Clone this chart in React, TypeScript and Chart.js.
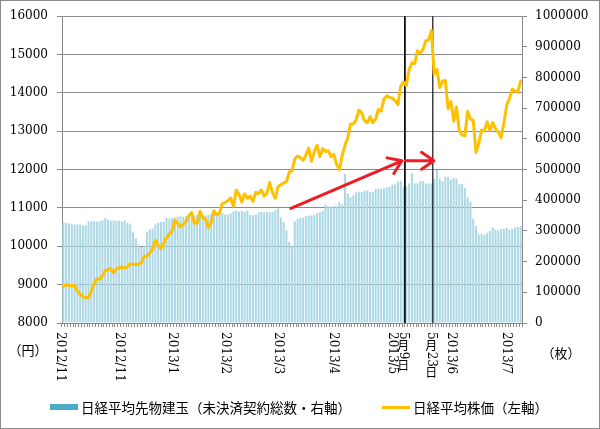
import React, { useEffect, useRef } from 'react';
import { Chart, registerables } from 'chart.js';

Chart.register(...registerables);

// Trading days per month (category axis)
const months = ['2012/11', '2012/12', '2013/1', '2013/2', '2013/3', '2013/4', '2013/5', '2013/6', '2013/7'];
const nov2012 = [1, 2, 5, 6, 7, 8, 9, 12, 13, 14, 15, 16, 19, 20, 21, 22, 26, 27, 28, 29, 30];
const dec2012 = [3, 4, 5, 6, 7, 10, 11, 12, 13, 14, 17, 18, 19, 20, 21, 25, 26, 27, 28];
const jan2013 = [4, 7, 8, 9, 10, 11, 15, 16, 17, 18, 21, 22, 23, 24, 25, 28, 29, 30, 31];
const feb2013 = [1, 4, 5, 6, 7, 8, 12, 13, 14, 15, 18, 19, 20, 21, 22, 25, 26, 27, 28];
const mar2013 = [1, 4, 5, 6, 7, 8, 11, 12, 13, 14, 15, 18, 19, 21, 22, 25, 26, 27, 28, 29];
const apr2013 = [1, 2, 3, 4, 5, 8, 9, 10, 11, 12, 15, 16, 17, 18, 19, 22, 23, 24, 25, 26, 30];
const may2013 = [1, 2, 7, 8, 9, 10, 13, 14, 15, 16, 17, 20, 21, 22, 23, 24, 27, 28, 29, 30, 31];
const jun2013 = [3, 4, 5, 6, 7, 10, 11, 12, 13, 14, 17, 18, 19, 20, 21, 24, 25, 26, 27, 28];
const jul2013 = [1, 2, 3, 4, 5];
const monthDays = [nov2012, dec2012, jan2013, feb2013, mar2013, apr2013, may2013, jun2013, jul2013];
const categories: string[] = months.flatMap((m, i) => monthDays[i].map((d) => `${m}/${d}`));

// 日経平均株価（左軸, 円）
const nikkei = [
  8946, 9007, 8975, 8975, 8972, 8837, 8757, 8676, 8661, 8665, 8830, 9024, 9153, 9142, 9222, 9366, 9388, 9423, 9308, 9400, 9446,
  9458, 9432, 9468, 9545, 9527, 9533, 9525, 9581, 9742, 9737, 9828, 9923, 10160, 10039, 9940, 10080, 10230, 10322, 10395,
  10688, 10599, 10508, 10578, 10652, 10801, 10879, 10600, 10609, 10913, 10747, 10709, 10487, 10620, 10926, 10824, 10866, 11113, 11138,
  11191, 11260, 11046, 11463, 11357, 11153, 11369, 11251, 11307, 11173, 11407, 11372, 11468, 11309, 11385, 11662, 11399, 11254, 11559,
  11606, 11652, 11683, 11932, 11968, 12283, 12349, 12315, 12239, 12381, 12560, 12220, 12468, 12635, 12338, 12546, 12471, 12494, 12336, 12397,
  12135, 12003, 12362, 12634, 12833, 13192, 13192, 13288, 13549, 13485, 13275, 13221, 13382, 13220, 13316, 13568, 13529, 13843, 13926, 13884, 13860,
  13799, 13694, 14180, 14285, 14191, 14607, 14782, 14758, 15096, 15037, 15138, 15360, 15381, 15627, 14483, 14612, 14143, 14311, 14326, 13589, 13775,
  13262, 13633, 13015, 12904, 12877, 13515, 13318, 13289, 12445, 12687, 13034, 13008, 13245, 13015, 13230, 13063, 12970, 12835, 13214, 13677,
  13852, 14099, 14055, 14018, 14309,
];

// 日経平均先物建玉（右軸, 枚）
const openInterest = [
  327000, 327000, 324000, 322000, 321000, 322000, 321000, 319000, 319000, 331000, 332000, 332000, 331000, 332000, 335000, 342000, 337000, 334000, 334000, 333000, 333000,
  331000, 334000, 326000, 321000, 296000, 276000, 255000, 248000, 250000, 296000, 305000, 308000, 321000, 327000, 329000, 331000, 343000, 341000, 343000,
  344000, 346000, 348000, 346000, 348000, 350000, 349000, 350000, 352000, 350000, 348000, 350000, 352000, 356000, 358000, 357000, 356000, 359000, 354000,
  353000, 357000, 364000, 366000, 363000, 365000, 362000, 366000, 352000, 351000, 353000, 360000, 362000, 361000, 363000, 360000, 362000, 368000, 373000,
  345000, 329000, 302000, 264000, 250000, 332000, 340000, 343000, 343000, 348000, 350000, 350000, 352000, 358000, 362000, 366000, 386000, 380000, 379000, 381000,
  380000, 394000, 386000, 486000, 421000, 410000, 416000, 426000, 428000, 427000, 432000, 432000, 426000, 428000, 437000, 437000, 437000, 438000, 443000, 444000, 451000,
  452000, 461000, 464000, 445000, 445000, 455000, 488000, 455000, 455000, 462000, 462000, 455000, 455000, 455000, 470000, 499000, 470000, 462000, 477000, 476000, 467000,
  473000, 470000, 452000, 452000, 440000, 410000, 394000, 340000, 316000, 289000, 291000, 288000, 293000, 300000, 311000, 305000, 302000, 307000, 307000, 311000,
  304000, 307000, 311000, 313000, 315000,
];

// x-axis labels
const xTickDates = ['2012/11/1', '2012/12/3', '2013/1/4', '2013/2/1', '2013/3/1', '2013/4/1', '2013/5/1', '2013/5/9', '2013/5/23', '2013/6/3', '2013/7/1'];
const xTickTexts = ['2012/11', '2012/11', '2013/1', '2013/2', '2013/3', '2013/4', '2013/5', '5月9日', '5月23日', '2013/6', '2013/7'];

// Marker lines
const markerDates = ['2013/5/9', '2013/5/23'];

// Arrows, in data units: [category index, yen]
const arrowFrom = [[81.6, 10990], [122.6, 12230]];
const arrowTo = [[121.4, 12230], [132.9, 12230]];

const seriesNames = ['日経平均先物建玉（未決済契約総数・右軸）', '日経平均株価（左軸）'];
const leftUnit = '（円）';
const rightUnit = '（枚）';

const BAR_COLOR = '#acd8e5';
const BAR_LEGEND = '#4bacc6';
const LINE_COLOR = '#ffc000';
const GRID = '#8a8a8a';
const SERIF = "'DejaVu Serif', 'Liberation Serif', serif";
const CJK = "'Noto Sans CJK JP', 'Noto Sans', sans-serif";

function drawVerticalText(ctx: CanvasRenderingContext2D, text: string, cx: number, top: number, size: number) {
  let y = top;
  for (const ch of text) {
    const isCJK = ch.charCodeAt(0) > 0x2e80;
    if (isCJK) {
      ctx.font = `${size}px ${CJK}`;
      ctx.textAlign = 'center';
      ctx.textBaseline = 'middle';
      ctx.fillText(ch, cx, y + size / 2);
      y += size;
    } else {
      ctx.font = `${size}px ${SERIF}`;
      const w = ctx.measureText(ch).width;
      ctx.save();
      ctx.translate(cx, y);
      ctx.rotate(Math.PI / 2);
      ctx.textAlign = 'left';
      ctx.textBaseline = 'middle';
      ctx.fillText(ch, 0, 0);
      ctx.restore();
      y += w;
    }
  }
}

const overlayPlugin = {
  id: 'overlay',
  afterDatasetDraw(chart: any, args: any) {
    if (args.index !== 0) return;
    const { ctx, chartArea } = chart;
    const xs = chart.scales.x;
    const pitch = (chartArea.right - chartArea.left) / categories.length;
    const widths = [1.8, 1.2];
    markerDates.forEach((d, i) => {
      const x = xs.getPixelForValue(categories.indexOf(d)) - pitch / 2;
      ctx.save();
      ctx.strokeStyle = '#111';
      ctx.lineWidth = widths[i];
      ctx.beginPath();
      ctx.moveTo(x, chartArea.top);
      ctx.lineTo(x, chartArea.bottom);
      ctx.stroke();
      ctx.restore();
    });
  },
  afterDatasetsDraw(chart: any) {
    const { ctx } = chart;
    const xs = chart.scales.x;
    const ys = chart.scales.y;
    ctx.save();
    ctx.strokeStyle = '#ee1c24';
    ctx.lineWidth = 3;
    ctx.lineCap = 'round';
    ctx.lineJoin = 'round';
    arrowFrom.forEach((f, i) => {
      const t = arrowTo[i];
      const x0 = xs.getPixelForValue(f[0]);
      const y0 = ys.getPixelForValue(f[1]);
      const x1 = xs.getPixelForValue(t[0]);
      const y1 = ys.getPixelForValue(t[1]);
      const a = Math.atan2(y1 - y0, x1 - x0);
      const L = 15;
      const th = 0.6;
      ctx.beginPath();
      ctx.moveTo(x0, y0);
      ctx.lineTo(x1, y1);
      ctx.moveTo(x1 - L * Math.cos(a - th), y1 - L * Math.sin(a - th));
      ctx.lineTo(x1, y1);
      ctx.lineTo(x1 - L * Math.cos(a + th), y1 - L * Math.sin(a + th));
      ctx.stroke();
    });
    ctx.restore();
  },
  afterDraw(chart: any) {
    const { ctx, chartArea } = chart;
    const xs = chart.scales.x;
    ctx.save();
    ctx.fillStyle = '#000';
    // x labels (vertical)
    xTickDates.forEach((d, i) => {
      const x = xs.getPixelForValue(categories.indexOf(d)) - 3;
      drawVerticalText(ctx, xTickTexts[i], x, chartArea.bottom + 9, 12);
    });
    // axis units
    ctx.font = `13px ${CJK}`;
    ctx.textAlign = 'center';
    ctx.textBaseline = 'middle';
    ctx.fillText(leftUnit, 28, 350);
    ctx.fillText(rightUnit, 561, 353);
    // legend
    ctx.fillStyle = BAR_LEGEND;
    ctx.fillRect(50, 404, 28, 6);
    ctx.fillStyle = '#000';
    ctx.font = `13.5px ${CJK}`;
    ctx.textAlign = 'left';
    ctx.fillText(seriesNames[0], 81, 407.5);
    ctx.strokeStyle = LINE_COLOR;
    ctx.lineWidth = 3;
    ctx.beginPath();
    ctx.moveTo(382, 407.5);
    ctx.lineTo(410, 407.5);
    ctx.stroke();
    ctx.fillText(seriesNames[1], 413, 407.5);
    // frame
    ctx.strokeStyle = '#8c8c8c';
    ctx.lineWidth = 1;
    ctx.strokeRect(0.5, 0.5, 599, 428);
    ctx.restore();
  },
};

export default function App() {
  const ref = useRef<HTMLCanvasElement>(null);
  useEffect(() => {
    if (!ref.current) return;
    const chart = new Chart(ref.current, {
      type: 'bar',
      data: {
        labels: categories,
        datasets: [
          {
            type: 'bar',
            label: seriesNames[0],
            data: openInterest,
            yAxisID: 'y1',
            backgroundColor: BAR_COLOR,
            borderWidth: 0,
            barPercentage: 0.72,
            categoryPercentage: 1,
            order: 2,
          } as any,
          {
            type: 'line',
            label: seriesNames[1],
            data: nikkei,
            yAxisID: 'y',
            borderColor: LINE_COLOR,
            borderWidth: 3,
            pointRadius: 0,
            tension: 0,
            borderJoinStyle: 'round',
            borderCapStyle: 'round',
            order: 1,
          } as any,
        ],
      },
      options: {
        animation: false,
        responsive: false,
        maintainAspectRatio: false,
        layout: { padding: { top: 15, left: 0, right: 0, bottom: 0 } },
        plugins: { legend: { display: false }, tooltip: { enabled: false } },
        scales: {
          x: {
            type: 'category',
            offset: true,
            grid: { display: true, drawOnChartArea: false, drawTicks: true, tickLength: 4, color: GRID, offset: true },
            border: { display: true, color: GRID, width: 1 },
            ticks: { display: false },
            afterFit: (s: any) => { s.height = 106; },
          },
          y: {
            type: 'linear',
            position: 'left',
            min: 8000,
            max: 16000,
            ticks: { stepSize: 1000, padding: 9, color: '#000', font: { family: SERIF, size: 12 }, callback: (v: any) => String(v) },
            grid: { color: GRID, tickLength: 5, drawTicks: true },
            border: { display: true, color: GRID, width: 1 },
            afterFit: (s: any) => { s.width = 62; },
          },
          y1: {
            type: 'linear',
            position: 'right',
            min: 0,
            max: 1000000,
            ticks: { stepSize: 100000, padding: 8, color: '#000', font: { family: SERIF, size: 12 }, callback: (v: any) => String(v) },
            grid: { drawOnChartArea: false, color: GRID, tickLength: 5, drawTicks: true },
            border: { display: true, color: GRID, width: 1 },
            afterFit: (s: any) => { s.width = 78; },
          },
        },
      } as any,
      plugins: [overlayPlugin],
    });
    return () => chart.destroy();
  }, []);
  return (
    <div style={{ position: 'fixed', left: 0, top: 0, width: 600, height: 429, background: '#fff' }}>
      <canvas ref={ref} width={600} height={429} style={{ display: 'block', width: 600, height: 429 }} />
    </div>
  );
}
